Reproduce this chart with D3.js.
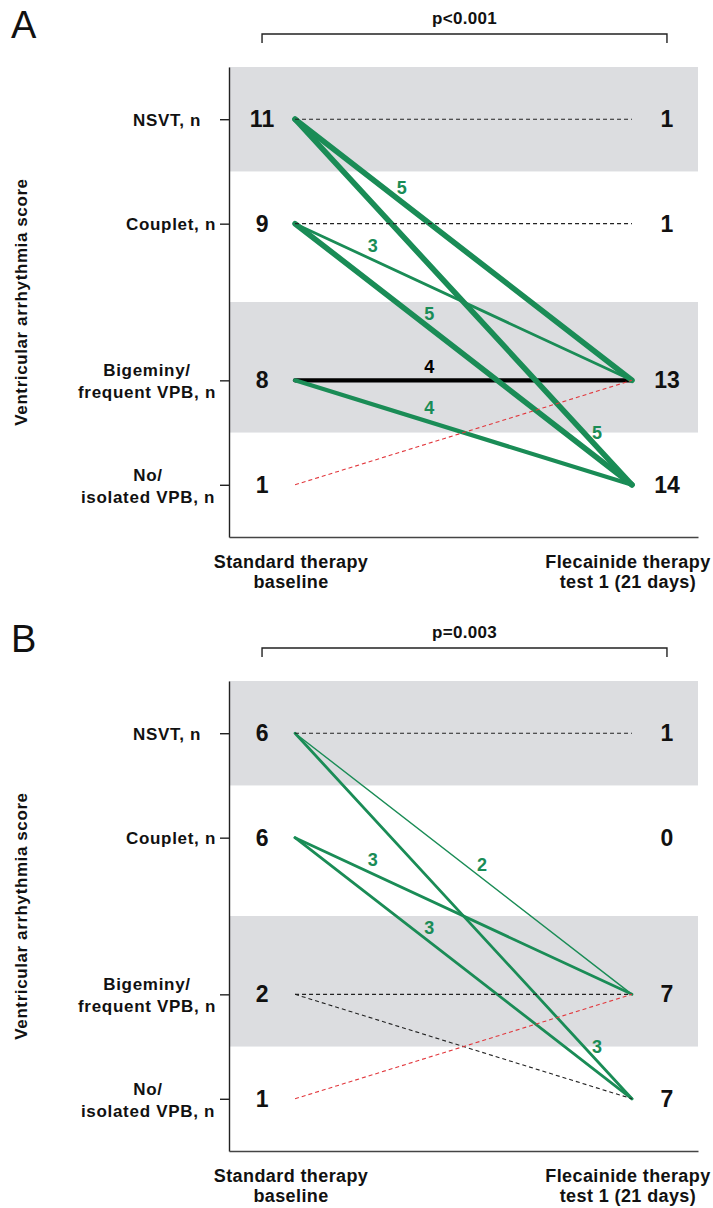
<!DOCTYPE html>
<html>
<head>
<meta charset="utf-8">
<script src="https://cdnjs.cloudflare.com/ajax/libs/d3/7.8.5/d3.min.js"></script>
<style>
body { margin: 0; background: #fff; }
text { font-family: "Liberation Sans", Arial, sans-serif; }
</style>
</head>
<body>
<div id="chart"></div>
<script>
// categories (top to bottom) and their place on the score axis
var rows = ["NSVT", "Couplet", "Bigeminy", "No"];
var rowLabels = [["NSVT, n"], ["Couplet, n"], ["Bigeminy/", "frequent VPB, n"], ["No/", "isolated VPB, n"]];
var rowScore = [4.5, 3.5, 2, 1];
var shadedBands = [[4, 5], [1.5, 2.75]];
var timepoints = [["Standard therapy", "baseline"], ["Flecainide therapy", "test 1 (21 days)"]];
var yTitle = "Ventricular arrhythmia score";

// panel A
var baselineA = [11, 9, 8, 1];
var testA = [1, 1, 13, 14];
var flowFromA = ["NSVT", "NSVT", "NSVT", "Couplet", "Couplet", "Couplet", "Bigeminy", "Bigeminy", "No"];
var flowToA   = ["NSVT", "Bigeminy", "No", "Couplet", "Bigeminy", "No", "Bigeminy", "No", "Bigeminy"];
var flowNA    = [1, 5, 5, 1, 3, 5, 4, 4, 1];
var labelAtA  = [0, 0.317, 0.896, 0, 0.231, 0.398, 0.398, 0.398, 0];

// panel B
var baselineB = [6, 6, 2, 1];
var testB = [1, 0, 7, 7];
var flowFromB = ["NSVT", "NSVT", "NSVT", "Couplet", "Couplet", "Bigeminy", "Bigeminy", "No"];
var flowToB   = ["NSVT", "Bigeminy", "No", "Bigeminy", "No", "Bigeminy", "No", "Bigeminy"];
var flowNB    = [1, 2, 3, 3, 3, 1, 1, 1];
var labelAtB  = [0, 0.555, 0.896, 0.231, 0.398, 0, 0, 0];

var panels = [
    {name: "A", p: "p<0.001", base: baselineA, test: testA, from: flowFromA, to: flowToA, n: flowNA, at: labelAtA},
    {name: "B", p: "p=0.003", base: baselineB, test: testB, from: flowFromB, to: flowToB, n: flowNB, at: labelAtB}
];

var W = 713, H = 1208;
var panelStep = 614;
var plotLeft = 229, plotRight = 698, plotTop = 67, plotBottom = 537;
var green = "#1a8c56";
var labelCenterX = [167, 171, 147, 148];

var svg = d3.select("#chart").append("svg")
    .attr("width", W)
    .attr("height", H);

var x = d3.scalePoint().domain([0, 1]).range([plotLeft, plotRight]).padding(0.196);
var y = d3.scaleLinear().domain([0.5, 5]).range([plotBottom, plotTop]);
var strokeW = d3.scaleLinear().domain([2, 5]).range([1.4, 5.6]);
var line = d3.line().x(function(d){ return x(d[0]); }).y(function(d){ return y(d[1]); });

function score(cat) { return rowScore[rows.indexOf(cat)]; }

panels.forEach(function(p, i) {
    drawPanel(svg.append("g").attr("transform", "translate(0," + (i * panelStep) + ")"), p);
});

function drawPanel(g, p) {
    // grey bands
    g.selectAll("rect.band")
        .data(shadedBands)
        .enter()
        .append("rect")
        .attr("x", plotLeft)
        .attr("width", plotRight - plotLeft)
        .attr("y", function(d){ return y(d[1]); })
        .attr("height", function(d){ return y(d[0]) - y(d[1]); })
        .attr("fill", "#dcdde0");

    // axes
    var ya = g.append("g")
        .attr("transform", "translate(" + plotLeft + ",0)")
        .call(d3.axisLeft(y).tickValues(rowScore).tickSize(9).tickSizeOuter(0).tickFormat(""));
    ya.selectAll("path, line").attr("stroke", "#222").attr("stroke-width", 1.4);

    var xa = g.append("g")
        .attr("transform", "translate(0," + plotBottom + ")")
        .call(d3.axisBottom(x).tickValues([]).tickSizeOuter(0));
    xa.select("path").attr("stroke", "#444").attr("stroke-width", 1.4);

    // row labels
    rowLabels.forEach(function(lines, r) {
        var t = g.append("text")
            .attr("text-anchor", "middle")
            .attr("font-size", "17px")
            .attr("font-weight", "bold")
            .attr("letter-spacing", "0.7px")
            .attr("fill", "#111");
        var yy = y(rowScore[r]);
        lines.forEach(function(s, k) {
            var dy = lines.length == 1 ? 6.5 : (k == 0 ? -4 : 18);
            t.append("tspan")
                .attr("x", labelCenterX[r])
                .attr("y", yy + dy)
                .text(s);
        });
    });

    // timepoint labels
    timepoints.forEach(function(lines, c) {
        lines.forEach(function(s, k) {
            g.append("text")
                .attr("x", x(c) - 4)
                .attr("y", 568 + k * 20)
                .attr("text-anchor", "middle")
                .attr("font-size", "18px")
                .attr("font-weight", "bold")
                .attr("letter-spacing", "0.4px")
                .attr("fill", "#111")
                .text(s);
        });
    });

    // counts at both ends
    [p.base, p.test].forEach(function(counts, c) {
        g.selectAll("text.count" + c)
            .data(counts)
            .enter()
            .append("text")
            .attr("x", c == 0 ? x(0) - 33 : x(1) + 35)
            .attr("y", function(d, r){ return y(rowScore[r]) + 8; })
            .attr("text-anchor", "middle")
            .attr("font-size", "23px")
            .attr("font-weight", "bold")
            .attr("fill", "#111")
            .text(function(d){ return d; });
    });

    // flows
    var flows = p.n.map(function(n, k) {
        var a = score(p.from[k]), b = score(p.to[k]);
        return {n: n, a: a, b: b, at: p.at[k]};
    });
    function colour(d) {
        if (d.n == 1) return d.b > d.a ? "#e2383d" : "#222";
        return d.a == d.b ? "#000" : green;
    }
    var order = flows.slice().sort(function(u, v) {
        var ru = u.n == 1 ? 2 : (u.a == u.b ? 0 : 1);
        var rv = v.n == 1 ? 2 : (v.a == v.b ? 0 : 1);
        return ru - rv;
    });
    g.selectAll("path.flow")
        .data(order)
        .enter()
        .append("path")
        .attr("d", function(d){ return line([[0, d.a], [1, d.b]]); })
        .attr("fill", "none")
        .attr("stroke", colour)
        .attr("stroke-width", function(d){ return d.n == 1 ? 1.1 : strokeW(d.n); })
        .attr("stroke-dasharray", function(d){ return d.n == 1 ? "4,3" : null; })
        .attr("stroke-linecap", function(d){ return d.n == 1 ? "butt" : "round"; });

    g.selectAll("text.flowlabel")
        .data(flows.filter(function(d){ return d.n > 1; }))
        .enter()
        .append("text")
        .attr("x", function(d){ return x(0) + (x(1) - x(0)) * d.at; })
        .attr("y", function(d){ return y(d.a + (d.b - d.a) * d.at) - 14 + 6.5; })
        .attr("text-anchor", "middle")
        .attr("font-size", "18px")
        .attr("font-weight", "bold")
        .attr("fill", function(d){ return d.a == d.b ? "#000" : green; })
        .text(function(d){ return d.n; });

    // bracket with p value
    var bx0 = x(0) - 33, bx1 = x(1) + 35;
    g.append("path")
        .attr("d", "M" + bx0 + ",43V34H" + bx1 + "V43")
        .attr("fill", "none")
        .attr("stroke", "#222")
        .attr("stroke-width", 1.4);
    g.append("text")
        .attr("x", (bx0 + bx1) / 2)
        .attr("y", 24)
        .attr("text-anchor", "middle")
        .attr("font-size", "17px")
        .attr("font-weight", "bold")
        .attr("letter-spacing", "0.3px")
        .attr("fill", "#111")
        .text(p.p);

    // panel letter
    g.append("text")
        .attr("x", 11)
        .attr("y", 38)
        .attr("font-size", "38px")
        .attr("fill", "#111")
        .text(p.name);

    // y title
    g.append("text")
        .attr("transform", "translate(27," + ((plotTop + plotBottom) / 2) + ") rotate(-90)")
        .attr("text-anchor", "middle")
        .attr("font-size", "17px")
        .attr("font-weight", "bold")
        .attr("letter-spacing", "0.6px")
        .attr("fill", "#111")
        .text(yTitle);
}
</script>
</body>
</html>
